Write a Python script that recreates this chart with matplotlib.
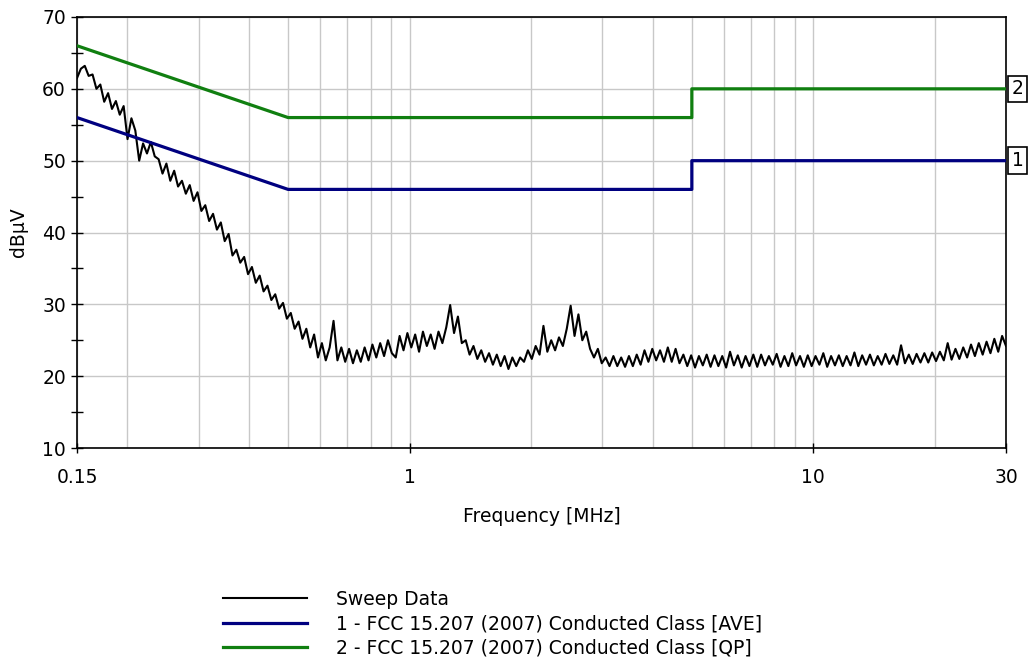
import numpy as np
import matplotlib
matplotlib.use("Agg")
import matplotlib.pyplot as plt
from matplotlib.ticker import FixedLocator, NullFormatter
import matplotlib.transforms as mtransforms

plt.rcParams['font.family'] = ['DejaVu Sans']

# ---- data ----
sweep_dbuv = [
    61.5, 62.8, 63.2, 61.8, 62.0, 60.0, 60.6, 58.2, 59.4, 57.2, 58.3, 56.4, 57.6,
    53.0, 55.9, 54.2, 50.0, 52.4, 51.0, 52.6, 50.6,
    50.2, 48.2, 49.6, 47.2, 48.6, 46.4, 47.2, 45.4, 46.6, 44.4, 45.6, 43.0, 43.8,
    41.6, 42.6, 40.4, 41.4, 38.8, 39.8,
    36.8, 37.6, 35.8, 36.6, 34.2, 35.2, 33.0, 34.0, 31.8, 32.6, 30.6, 31.4, 29.4,
    30.2, 28.0, 28.8, 26.6, 27.6, 25.2, 26.6, 24.0, 25.8, 22.6, 24.6, 22.2, 24.0,
    27.7,
    22.2, 24.0, 22.0, 23.8, 21.8, 23.6, 22.0, 24.0, 22.2, 24.4, 22.6, 24.6, 22.8,
    25.0, 23.2, 22.6,
    25.6, 23.6, 26.0, 24.0, 25.8, 23.4, 26.2, 24.2, 25.8, 23.8, 26.2, 24.6, 26.8,
    29.9, 26.0, 28.3, 24.6,
    25.0, 23.0, 24.2, 22.4, 23.6, 22.0, 23.2, 21.6, 23.0, 21.4, 22.8, 21.0, 22.6,
    21.4, 22.6, 22.0, 23.6, 22.4, 24.2, 23.0,
    27.0,
    23.4, 25.0, 23.6, 25.4, 24.2, 26.6, 29.8, 25.6, 28.6, 25.0, 26.2,
    23.8, 22.6, 23.8, 21.8, 22.6, 21.4, 22.8, 21.4, 22.6, 21.3, 22.8, 21.4, 23.0,
    21.6,
    23.6, 22.0, 23.8, 22.2, 23.6, 22.0, 24.0, 22.0, 23.8, 21.8, 23.0,
    21.4, 22.9, 21.2, 22.8, 21.5, 23.0, 21.3, 22.9, 21.4, 22.8,
    21.2, 23.4, 21.5, 22.9, 21.2, 22.8, 21.4, 23.0, 21.3, 23.0,
    21.5, 22.8, 21.6, 23.1, 21.3, 22.8, 21.4, 23.2, 21.5, 22.8,
    21.3, 22.9, 21.4, 22.8, 21.6, 23.2, 21.3, 22.8, 21.5, 22.9,
    21.4, 22.8, 21.5, 23.3, 21.4, 22.9, 21.6, 23.0, 21.5, 22.8,
    21.6, 23.1, 21.7, 22.9, 21.6,
    24.3,
    21.8, 23.0, 21.7, 23.1, 21.9, 23.2, 21.9, 23.3, 22.1, 23.4, 22.2, 24.6, 22.3,
    23.8, 22.4, 24.0, 22.6, 24.4, 22.8, 24.6, 23.0, 24.8, 23.2, 25.2, 23.4, 25.6,
    24.2,
]
sweep_freq_mhz = np.geomspace(0.15, 30.0, len(sweep_dbuv))

limit_freq_mhz = [0.15, 0.5, 5.0, 5.0, 30.0]
limit_ave_dbuv = [56.0, 46.0, 46.0, 50.0, 50.0]
limit_qp_dbuv = [66.0, 56.0, 56.0, 60.0, 60.0]

x_ticks = [0.15, 1, 10, 30]
x_tick_labels = ['0.15', '1', '10', '30']
x_grid_minor = [0.2, 0.3, 0.4, 0.5, 0.6, 0.7, 0.8, 0.9,
                2, 3, 4, 5, 6, 7, 8, 9, 20]
y_ticks = [10, 20, 30, 40, 50, 60, 70]
y_minor = [15, 25, 35, 45, 55, 65]

labels = ['Sweep Data',
          '1 - FCC 15.207 (2007) Conducted Class [AVE]',
          '2 - FCC 15.207 (2007) Conducted Class [QP]']

FS = 13.5

# ---- figure ----
W, H = 1031, 671
fig = plt.figure(figsize=(W / 100, H / 100), dpi=100)
ax = fig.add_axes([77 / W, 1 - 448 / H, (1006 - 77) / W, (448 - 17) / H])

l_sweep, = ax.plot(sweep_freq_mhz, sweep_dbuv, color='black', lw=1.5, zorder=3)
l_ave, = ax.plot(limit_freq_mhz, limit_ave_dbuv, color='#000080', lw=2.3, zorder=4)
l_qp, = ax.plot(limit_freq_mhz, limit_qp_dbuv, color='#107f10', lw=2.3, zorder=4)

ax.set_xscale('log')
ax.set_xlim(0.15, 30)
ax.set_ylim(10, 70)

ax.xaxis.set_major_locator(FixedLocator(x_ticks))
ax.set_xticklabels(x_tick_labels)
ax.xaxis.set_minor_locator(FixedLocator(x_grid_minor))
ax.xaxis.set_minor_formatter(NullFormatter())
ax.set_yticks(y_ticks)
ax.yaxis.set_minor_locator(FixedLocator(y_minor))

ax.tick_params(axis='x', which='major', direction='inout', length=7, width=1,
               labelsize=FS, pad=11)
ax.tick_params(axis='x', which='minor', length=0)
ax.tick_params(axis='y', which='both', direction='inout', length=8, width=1,
               labelsize=FS, pad=4)

ax.grid(True, which='major', axis='both', color='#c8c8c8', lw=1.0, zorder=0)
ax.grid(True, which='minor', axis='x', color='#c8c8c8', lw=1.0, zorder=0)
ax.set_axisbelow(True)
for s in ax.spines.values():
    s.set_linewidth(1.2)
    s.set_color('black')

ax.set_xlabel('Frequency [MHz]', fontsize=FS, labelpad=14)
ax.set_ylabel('dBµV', fontsize=FS, labelpad=10)

# right-edge line markers
trans = mtransforms.blended_transform_factory(ax.transAxes, ax.transData)
for val, txt in [(limit_qp_dbuv[-1], '2'), (limit_ave_dbuv[-1], '1')]:
    ax.text(1.006, val, txt, transform=trans, ha='left', va='center',
            fontsize=FS, clip_on=False,
            bbox=dict(boxstyle='square,pad=0.2', fc='white', ec='black', lw=1.2))

fig.legend([l_sweep, l_ave, l_qp], labels, loc='upper left',
           bbox_to_anchor=(223 / W, 1 - 590 / H), frameon=False,
           fontsize=FS, handlelength=4.5, handletextpad=1.5,
           labelspacing=0.27, borderpad=0, borderaxespad=0)

fig.savefig('out.png', dpi=100)
